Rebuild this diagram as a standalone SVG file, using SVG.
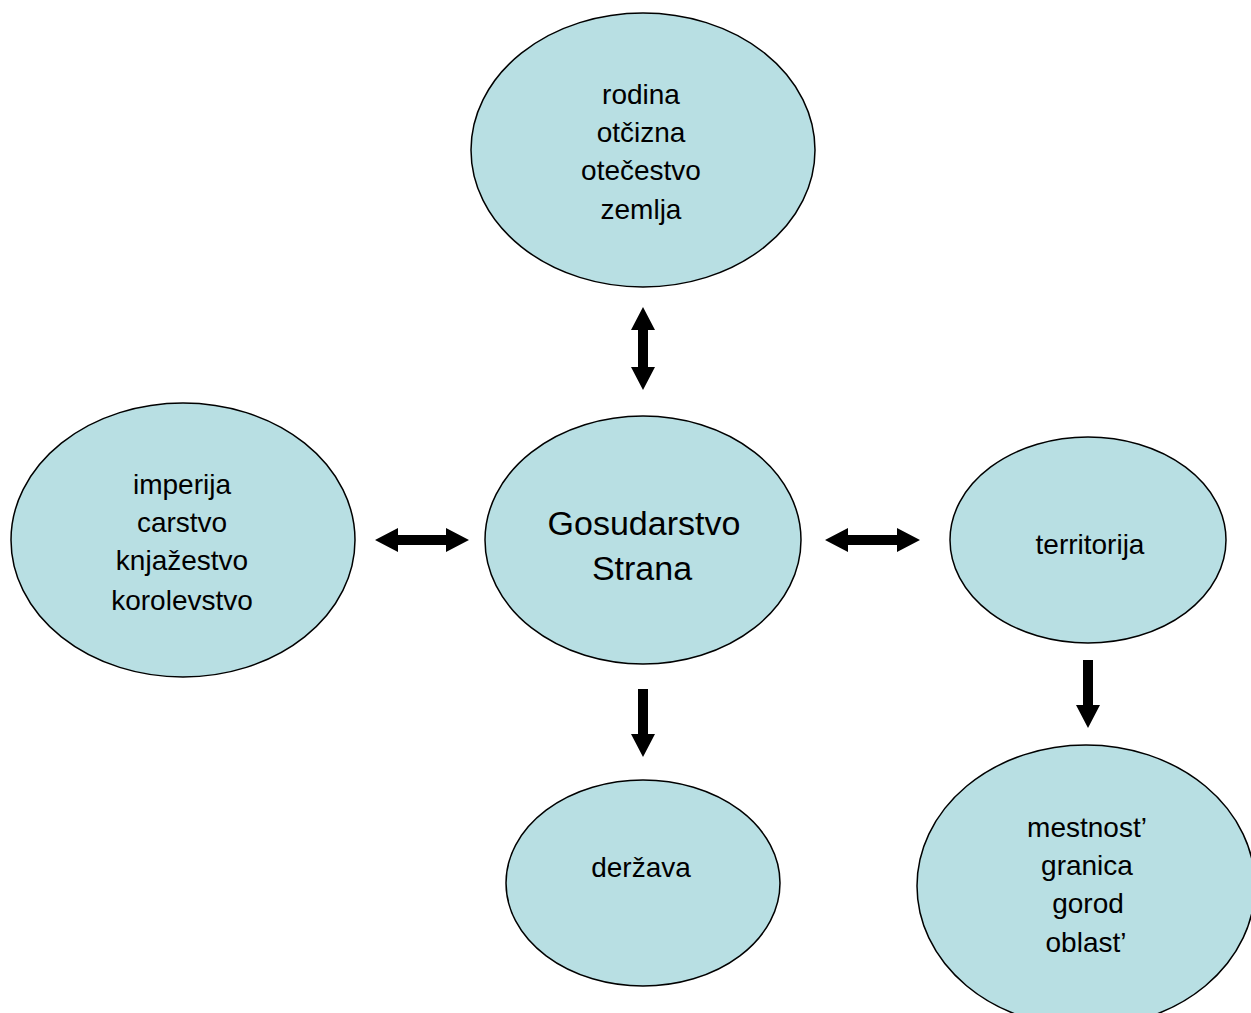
<svg xmlns="http://www.w3.org/2000/svg" width="1251" height="1013" viewBox="0 0 1251 1013">
<style>
.n{fill:#b8dfe3;stroke:#000;stroke-width:1.5}
.t{font-family:"Liberation Sans",Arial,sans-serif;font-size:28px;fill:#000;text-anchor:middle}
.b{font-size:34px}
.a{fill:#000;stroke:none}
</style>
<rect width="1251" height="1013" fill="#fff"/>
<g id="node-top"><ellipse class="n" cx="643" cy="150" rx="172" ry="137"/>
<text class="t" x="641" y="104">rodina</text><text class="t" x="641" y="142">otčizna</text><text class="t" x="641" y="180">otečestvo</text><text class="t" x="641" y="219">zemlja</text></g>
<g id="node-left"><ellipse class="n" cx="183" cy="540" rx="172" ry="137"/>
<text class="t" x="182" y="494">imperija</text><text class="t" x="182" y="532">carstvo</text><text class="t" x="182" y="570">knjažestvo</text><text class="t" x="182" y="610">korolevstvo</text></g>
<g id="node-center"><ellipse class="n" cx="643" cy="540" rx="158" ry="124"/>
<text class="t b" x="644" y="535">Gosudarstvo</text><text class="t b" x="642" y="580">Strana</text></g>
<g id="node-right"><ellipse class="n" cx="1088" cy="540" rx="138" ry="103"/>
<text class="t" x="1090" y="554">territorija</text></g>
<g id="node-bottom"><ellipse class="n" cx="643" cy="883" rx="137" ry="103"/>
<text class="t" x="641" y="877">deržava</text></g>
<g id="node-bottomright"><ellipse class="n" cx="1086" cy="886" rx="169" ry="141"/>
<text class="t" x="1087" y="837">mestnost’</text><text class="t" x="1087" y="875">granica</text><text class="t" x="1088" y="913">gorod</text><text class="t" x="1086" y="952">oblast’</text></g>
<g id="connectors">
<polygon class="a" points="643,307 655,330 648,330 648,367 655,367 643,390 631,367 638,367 638,330 631,330"/>
<polygon class="a" points="375,540 398,528 398,535 446,535 446,528 469,540 446,552 446,545 398,545 398,552"/>
<polygon class="a" points="825,540 848,528 848,535 897,535 897,528 920,540 897,552 897,545 848,545 848,552"/>
<polygon class="a" points="638,689 648,689 648,734 655,734 643,757 631,734 638,734"/>
<polygon class="a" points="1083,660 1093,660 1093,705 1100,705 1088,728 1076,705 1083,705"/>
</g>
</svg>
